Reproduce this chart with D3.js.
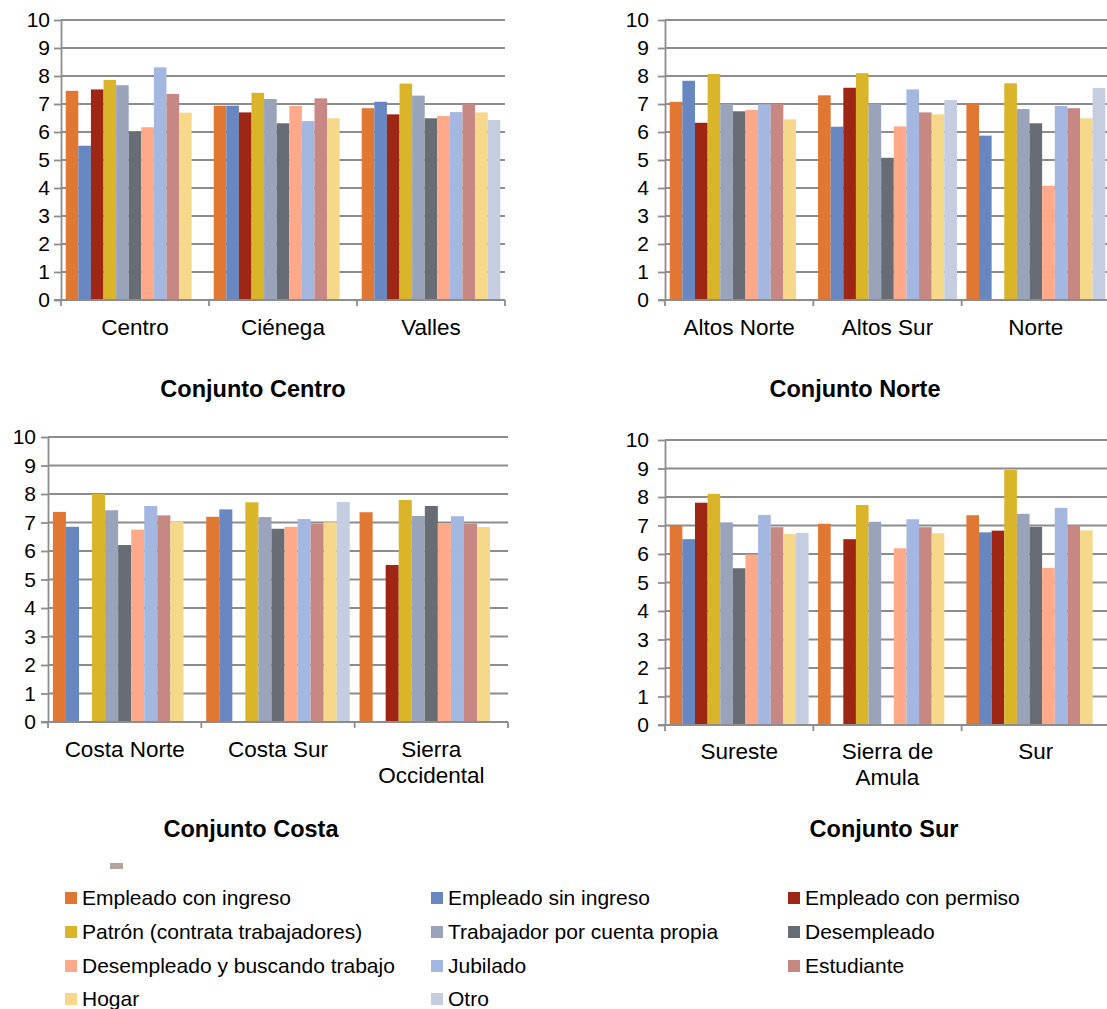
<!DOCTYPE html>
<html><head><meta charset="utf-8">
<script src="https://cdn.jsdelivr.net/npm/d3@7"></script>
<style>
body{margin:0;background:#fff}
svg text{font-family:"Liberation Sans",Arial,sans-serif;fill:#000}
</style>
</head><body>
<svg id="chart" width="1107" height="1009"></svg>
<script>
// ---------- data ----------
const seriesNames = [
  "Empleado con ingreso","Empleado sin ingreso","Empleado con permiso",
  "Patrón (contrata trabajadores)","Trabajador por cuenta propia","Desempleado",
  "Desempleado y buscando trabajo","Jubilado","Estudiante",
  "Hogar","Otro"
];
const seriesColors = ["#E07733","#6887C0","#9E2615","#DAB52A","#99A3B9","#686C74",
  "#FEA98A","#A4B7E0","#C78883","#F6D88A","#C5CDE0"];
const yTicks = [0,1,2,3,4,5,6,7,8,9,10];

const centroCats = ["Centro","Ciénega","Valles"];
const centroValues = [
  [7.47,5.51,7.52,7.86,7.67,6.01,6.17,8.31,7.36,6.69,null],
  [6.94,6.94,6.70,7.40,7.18,6.31,6.93,6.39,7.20,6.49,null],
  [6.85,7.08,6.63,7.73,7.30,6.49,6.57,6.71,7.01,6.70,6.43]
];
const norteCats = ["Altos Norte","Altos Sur","Norte"];
const norteValues = [
  [7.08,7.83,6.33,8.07,7.00,6.74,6.79,6.99,7.00,6.45,null],
  [7.31,6.19,7.58,8.10,7.01,5.08,6.20,7.52,6.70,6.63,7.14],
  [7.01,5.87,null,7.74,6.82,6.31,4.08,6.93,6.85,6.49,7.57]
];
const costaCats = ["Costa Norte","Costa Sur","Sierra\nOccidental"];
const costaValues = [
  [7.37,6.85,null,8.00,7.43,6.21,6.75,7.58,7.25,7.03,null],
  [7.20,7.46,null,7.71,7.19,6.78,6.85,7.12,6.96,7.01,7.72],
  [7.36,null,5.51,7.79,7.23,7.58,6.98,7.22,6.96,6.84,null]
];
const surCats = ["Sureste","Sierra de\nAmula","Sur"];
const surValues = [
  [6.99,6.52,7.80,8.11,7.11,5.50,5.98,7.37,6.94,6.70,6.74],
  [7.06,null,6.52,7.72,7.13,null,6.20,7.22,6.94,6.73,null],
  [7.36,6.76,6.82,8.95,7.41,6.95,5.51,7.62,7.01,6.83,null]
];

// ---------- layout ----------
const panels = [
  {title:"Conjunto Centro", cats:centroCats, values:centroValues, x0:61, x1:505, yTop:20, yBot:300, pad:4, titleX:253, titleY:397, catY:335},
  {title:"Conjunto Norte", cats:norteCats, values:norteValues, x0:665, x1:1110, yTop:20, yBot:300, pad:9, titleX:855, titleY:397, catY:335},
  {title:"Conjunto Costa", cats:costaCats, values:costaValues, x0:48, x1:508, yTop:437, yBot:722, pad:5, titleX:251, titleY:837, catY:757},
  {title:"Conjunto Sur", cats:surCats, values:surValues, x0:665, x1:1110, yTop:440, yBot:725, pad:9, titleX:884, titleY:837, catY:759}
];
const gridColor = "#8d8d8d";
const svg = d3.select("#chart");

panels.forEach(p => {
  const g = svg.append("g");
  const x = d3.scaleBand().domain(p.cats).range([p.x0, p.x1]).padding(0);
  const y = d3.scaleLinear().domain([0,10]).range([p.yBot, p.yTop]);
  const bw = x.bandwidth();
  const gapRatio = 0.75;
  const gap = bw * gapRatio / (seriesNames.length + gapRatio);
  const xs = d3.scaleBand().domain(d3.range(seriesNames.length)).range([gap/2, bw - gap/2]).padding(0);

  // gridlines
  g.append("g").selectAll("line").data(yTicks.filter(t => t > 0)).join("line")
    .attr("x1", p.x0).attr("x2", p.x1)
    .attr("y1", d => y(d)).attr("y2", d => y(d))
    .attr("stroke", gridColor).attr("stroke-width", 1.8);

  // y axis
  const ya = g.append("g").attr("transform", `translate(${p.x0},0)`)
    .call(d3.axisLeft(y).tickValues(yTicks).tickSize(7).tickSizeOuter(0).tickPadding(p.pad));
  ya.select(".domain").attr("stroke", gridColor).attr("stroke-width", 1.8);
  ya.selectAll(".tick line").attr("stroke", gridColor).attr("stroke-width", 1.8);
  ya.selectAll(".tick text").style("font-size", "21px").attr("fill", "#000");

  // bars
  p.cats.forEach((c, ci) => {
    const data = p.values[ci].map((v, si) => ({v, si})).filter(d => d.v !== null);
    g.append("g").selectAll("rect").data(data).join("rect")
      .attr("x", d => x(c) + xs(d.si))
      .attr("width", xs.bandwidth())
      .attr("y", d => y(d.v))
      .attr("height", d => y(0) - y(d.v))
      .attr("fill", d => seriesColors[d.si]);
  });

  // x axis baseline & tick marks at category boundaries
  g.append("line").attr("x1", p.x0 - 7).attr("x2", p.x1)
    .attr("y1", y(0)).attr("y2", y(0)).attr("stroke", gridColor).attr("stroke-width", 1.8);
  const bounds = p.cats.map(c => x(c)).concat([x(p.cats[p.cats.length-1]) + bw]);
  g.append("g").selectAll("line").data(bounds).join("line")
    .attr("x1", d => d).attr("x2", d => d)
    .attr("y1", y(0)).attr("y2", y(0) + 6)
    .attr("stroke", gridColor).attr("stroke-width", 1.8);

  // category labels
  p.cats.forEach(c => {
    const lines = c.split("\n");
    const t = g.append("text").attr("text-anchor", "middle")
      .attr("x", x(c) + bw/2).attr("y", p.catY).style("font-size", "22.5px");
    lines.forEach((l, i) => t.append("tspan").attr("x", x(c) + bw/2).attr("dy", i === 0 ? 0 : 26).text(l));
  });

  // title
  g.append("text").attr("x", p.titleX).attr("y", p.titleY).attr("text-anchor", "middle")
    .style("font-size", "23.5px").style("font-weight", "bold").text(p.title);
});

// small legend artifact
svg.append("rect").attr("x", 110).attr("y", 863).attr("width", 13).attr("height", 6)
  .attr("fill", "#b3a69f");

// legend
const legCols = [65, 431, 788];
const legRows = [898, 932, 966, 999];
const leg = svg.append("g");
seriesNames.forEach((name, i) => {
  const cx = legCols[i % 3], cy = legRows[Math.floor(i / 3)];
  leg.append("rect").attr("x", cx).attr("y", cy - 6).attr("width", 12).attr("height", 12)
    .attr("fill", seriesColors[i]);
  leg.append("text").attr("x", cx + 17).attr("y", cy).attr("dy", "0.35em")
    .style("font-size", "21px").text(name);
});
</script>
</body></html>
